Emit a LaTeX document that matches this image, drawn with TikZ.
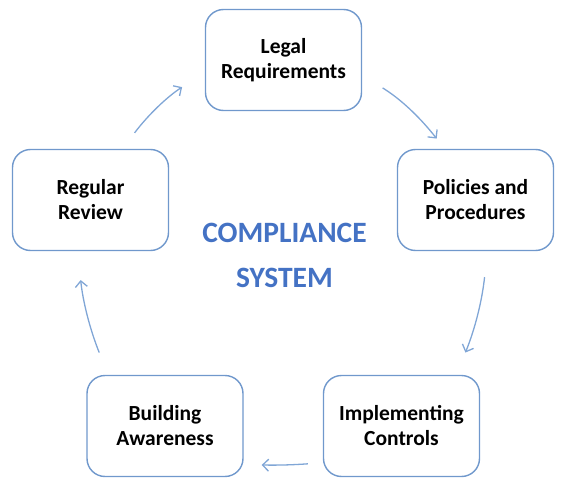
\documentclass[tikz,border=0pt]{standalone}
\usepackage{fontspec}
\setmainfont{Carlito}
\usetikzlibrary{arrows.meta}
\definecolor{boxblue}{RGB}{112,152,204}
\definecolor{arrblue}{RGB}{128,166,214}
\definecolor{txtblue}{RGB}{68,114,196}
\tikzset{
	stage/.style={draw=boxblue,line width=1.4pt,rounded corners=18pt,
		minimum width=156pt,minimum height=101pt,align=center,
		font=\bfseries\fontsize{21.5}{25}\selectfont},
	flow/.style={draw=arrblue,line width=1.3pt,
		-{Straight Barb[length=6pt,width=12pt]}}
}
\begin{document}
\begin{tikzpicture}[x=1pt,y=-1pt]
	\useasboundingbox (0,0) rectangle (566,490);
	\node[stage] (lr) at (283.5,60) {Legal\\Requirements};
	\node[stage] (pp) at (475.5,200) {Policies and\\Procedures};
	\node[stage] (ic) at (401.5,426) {Implementing\\Controls};
	\node[stage] (ba) at (165,426) {Building\\Awareness};
	\node[stage] (rr) at (90.5,200) {Regular\\Review};
	\node[inner sep=0pt,align=center,text=txtblue,
		font=\bfseries\fontsize{29.5}{45}\selectfont] (cs) at (284.5,255) {COMPLIANCE\\SYSTEM};
	% pijlen v krogu
	\draw[flow,shorten <=20pt,shorten >=27pt] (rr.58) to[bend left=10] (lr.189);
	\draw[flow,shorten <=24pt,shorten >=13pt] (lr.-11) to[bend left=10] (pp.121);
	\draw[flow,shorten <=26pt,shorten >=24pt] (pp.-77) to[bend left=8] (ic.43);
	\draw[flow,shorten <=15pt,shorten >=18pt] (ic.205) to[bend left=3] (ba.-26);
	\draw[flow,shorten <=24pt,shorten >=29pt] (ba.138) to[bend left=8] (rr.256);
\end{tikzpicture}
\end{document}
